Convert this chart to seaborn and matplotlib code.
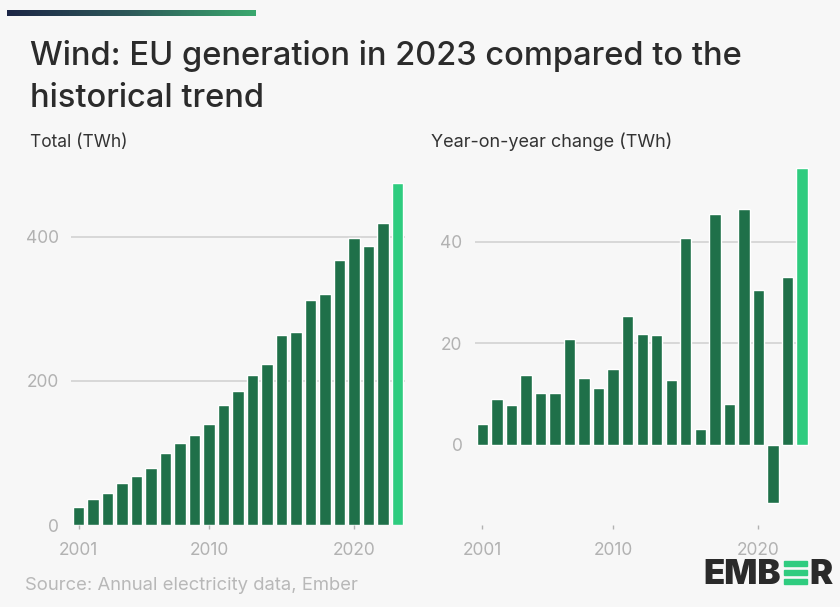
import matplotlib
matplotlib.use('Agg')
import matplotlib.pyplot as plt
from matplotlib.colors import LinearSegmentedColormap
from matplotlib.patches import Rectangle
import numpy as np
import pandas as pd
import seaborn as sns

# EU wind generation
years = list(range(2001, 2024))
total_twh = [25, 36, 44, 58, 68, 79, 100, 114, 125, 140, 166, 186, 208, 223,
             264, 268, 312, 321, 368, 398, 387, 420, 475]
yoy_twh = [4.1, 9.0, 7.9, 13.8, 10.2, 10.2, 20.9, 13.1, 11.2, 14.9, 25.4, 21.8,
           21.6, 12.7, 40.7, 3.1, 45.5, 8.0, 46.4, 30.5, -11.5, 33.0, 54.5]
tick_years = [2001, 2010, 2020]

DARK = '#1f7049'
BRIGHT = '#2fcc7f'
BG = '#f7f7f7'
GRID = '#d2d2d2'
TICK = '#b2b2b2'

sns.set_theme(style='white')
plt.rcParams['font.family'] = ['Inter', 'DejaVu Sans']

W, H = 840, 607
fig = plt.figure(figsize=(W / 100, H / 100), dpi=100, facecolor=BG)


def px_axes(left, top, right, bottom):
    """add axes from pixel box (origin top-left)"""
    return fig.add_axes([left / W, 1 - bottom / H, (right - left) / W, (bottom - top) / H])


df = pd.DataFrame({'year': [str(y) for y in years], 'total': total_twh, 'yoy': yoy_twh})
palette = [DARK] * (len(years) - 1) + [BRIGHT]
tick_pos = [years.index(y) for y in tick_years]


def style_axis(ax, yticks):
    ax.set_facecolor(BG)
    for s in ax.spines.values():
        s.set_visible(False)
    ax.set_xlabel('')
    ax.set_ylabel('')
    ax.set_xlim(-0.5, len(years) - 0.5)
    ax.set_yticks(yticks)
    ax.set_yticklabels([str(t) for t in yticks])
    ax.set_xticks(tick_pos)
    ax.set_xticklabels([str(y) for y in tick_years])
    ax.tick_params(axis='y', length=0, pad=9, labelsize=12.5, labelcolor=TICK)
    ax.tick_params(axis='x', length=3, width=1, color=TICK, pad=9,
                   labelsize=12.5, labelcolor=TICK, bottom=True)
    for t in yticks:
        if t != 0:
            ax.axhline(t, color=GRID, lw=1.2, zorder=0)
    ax.set_axisbelow(True)


# left: total generation
ax1 = px_axes(71.4, 179.4, 404.6, 525)
sns.barplot(data=df, x='year', y='total', hue='year', palette=palette,
            width=0.78, saturation=1, legend=False, ax=ax1, zorder=2)
ax1.set_ylim(0, 480)
style_axis(ax1, [0, 200, 400])

# right: year-on-year change
ax2 = px_axes(475.1, 160.5, 809.3, 525)
sns.barplot(data=df, x='year', y='yoy', hue='year', palette=palette,
            width=0.78, saturation=1, legend=False, ax=ax2, zorder=2)
ax2.set_ylim(-15.75, 56)
style_axis(ax2, [0, 20, 40])

# top gradient strip
gax = px_axes(7, 10, 255, 16)
cmap = LinearSegmentedColormap.from_list('strip', ['#1c2646', '#2e5a5a', '#3aa86e'])
gax.imshow(np.linspace(0, 1, 256)[None, :], aspect='auto', cmap=cmap)
gax.axis('off')

# titles
fig.text(30 / W, 1 - 65 / H, 'Wind: EU generation in 2023 compared to the',
         fontsize=23.5, fontweight=500, color='#2b2b2b', va='baseline', ha='left')
fig.text(30 / W, 1 - 107 / H, 'historical trend',
         fontsize=23.5, fontweight=500, color='#2b2b2b', va='baseline', ha='left')
fig.text(30 / W, 1 - 147 / H, 'Total (TWh)', fontsize=12.5, color='#333333',
         va='baseline', ha='left')
fig.text(431 / W, 1 - 147 / H, 'Year-on-year change (TWh)', fontsize=13,
         color='#333333', va='baseline', ha='left')

# source
fig.text(25 / W, 1 - 590 / H, 'Source: Annual electricity data, Ember',
         fontsize=13.3, color='#b8b8b8', va='baseline', ha='left')

# logo
logo_base = 1 - 584 / H
t1 = fig.text(703 / W, logo_base, 'EMB', fontsize=25, fontweight='black',
              color='#2a2a2a', va='baseline', ha='left')
renderer = fig.canvas.get_renderer()
bb = t1.get_window_extent(renderer)
x0 = bb.x1 + 3
stripe_w, stripe_h = 23, 5
for k in range(3):
    yb = (607 - 584) + k * 9
    fig.patches.append(Rectangle((x0 / W, yb / H), stripe_w / W, stripe_h / H,
                                 transform=fig.transFigure, color=BRIGHT, zorder=3))
fig.text((x0 + stripe_w + 3) / W, logo_base, 'R', fontsize=25, fontweight='black',
         color='#2a2a2a', va='baseline', ha='left')

fig.savefig('out.png', dpi=100, facecolor=BG)
